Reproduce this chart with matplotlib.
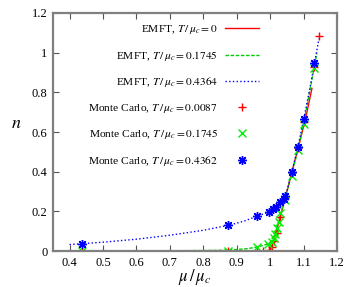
import matplotlib
matplotlib.use('Agg')
import matplotlib.pyplot as plt
from matplotlib.ticker import FuncFormatter

plt.rcParams['font.family'] = ['Liberation Serif', 'DejaVu Serif']
plt.rcParams['mathtext.fontset'] = 'stix'

# EMFT curves
mu_emft0 = [0.4, 1.0, 1.01, 1.03, 1.05, 1.07, 1.09, 1.11, 1.125]
n_emft0 = [0.0, 0.0, 0.05, 0.17, 0.30, 0.43, 0.56, 0.70, 0.82]

mu_emft1 = [0.4, 0.6, 0.8, 0.875, 0.93, 0.96, 0.985, 1.0, 1.01, 1.02, 1.03,
            1.045, 1.065, 1.083, 1.10, 1.12, 1.14]
n_emft1 = [0.0, 0.001, 0.003, 0.005, 0.012, 0.02, 0.032, 0.045, 0.07, 0.115,
           0.18, 0.27, 0.39, 0.51, 0.64, 0.82, 1.0]

mu_emft2 = [0.4, 0.5, 0.6, 0.7, 0.8, 0.875, 0.92, 0.96, 1.0, 1.02, 1.04,
            1.05, 1.065, 1.083, 1.10, 1.12, 1.146]
n_emft2 = [0.033, 0.045, 0.06, 0.08, 0.105, 0.13, 0.15, 0.175, 0.2, 0.225,
           0.26, 0.3, 0.4, 0.525, 0.66, 0.83, 1.07]

# Monte Carlo points
mu_mc0 = [0.436, 0.875, 0.962, 0.98, 0.997, 1.005, 1.012, 1.02, 1.03, 1.045,
          1.065, 1.083, 1.10, 1.132, 1.147]
n_mc0 = [0.0, 0.0, 0.0, 0.0, 0.005, 0.02, 0.05, 0.09, 0.17, 0.27, 0.40,
         0.52, 0.65, 0.93, 1.084]

mu_mc1 = [0.436, 0.875, 0.962, 0.995, 1.005, 1.011, 1.015, 1.021, 1.025,
          1.03, 1.045, 1.065, 1.083, 1.10, 1.132]
n_mc1 = [0.0, 0.003, 0.019, 0.034, 0.045, 0.064, 0.085, 0.114, 0.145, 0.19,
         0.26, 0.38, 0.51, 0.64, 0.92]

mu_mc2 = [0.436, 0.875, 0.962, 0.997, 1.01, 1.018, 1.03, 1.04, 1.045, 1.065,
          1.083, 1.10, 1.132]
n_mc2 = [0.038, 0.134, 0.176, 0.198, 0.21, 0.223, 0.245, 0.265, 0.28, 0.40,
         0.526, 0.664, 0.95]

fig = plt.figure(figsize=(3.57, 2.87), dpi=100)
ax = fig.add_axes([0.148, 0.125, 0.796, 0.83])

ax.plot(mu_emft0, n_emft0, '-', color='#ff0000', lw=1.0,
        label=r'EMFT, $T\,/\,\mu_c = 0$')
ax.plot(mu_emft1, n_emft1, '--', color='#00cc00', lw=1.0, dashes=(2.5, 1.2),
        label=r'EMFT, $T\,/\,\mu_c = 0.1745$')
ax.plot(mu_emft2, n_emft2, ':', color='#0000ff', lw=1.0,
        label=r'EMFT, $T\,/\,\mu_c = 0.4364$')
ax.plot(mu_mc0, n_mc0, '+', color='#ff0000', ms=6, mew=1.0, ls='none',
        label=r'Monte Carlo, $T\,/\,\mu_c = 0.0087$')
ax.plot(mu_mc1, n_mc1, 'x', color='#00ee00', ms=5.5, mew=1.0, ls='none',
        label=r'Monte Carlo, $T\,/\,\mu_c = 0.1745$')
ax.plot(mu_mc2, n_mc2, marker=(8, 2, 0), color='#0000ff', ms=6.5, mew=1.0,
        ls='none', label=r'Monte Carlo, $T\,/\,\mu_c = 0.4362$')

ax.set_xlim(0.35, 1.2)
ax.set_ylim(0, 1.2)
ax.set_xticks([0.4, 0.5, 0.6, 0.7, 0.8, 0.9, 1.0, 1.1, 1.2])
ax.set_yticks([0, 0.2, 0.4, 0.6, 0.8, 1.0, 1.2])
fmt = FuncFormatter(lambda v, p: '%g' % round(v, 2))
ax.xaxis.set_major_formatter(fmt)
ax.yaxis.set_major_formatter(fmt)
ax.tick_params(direction='in', top=True, right=True, length=4, width=0.8,
               color='#555555', labelsize=9, pad=4)
for s in ax.spines.values():
    s.set_color('#808080')
    s.set_linewidth(1.6)
ax.axhline(0, color='black', lw=0.8, zorder=0.5)

ax.set_xlabel(r'$\mu\,/\,\mu_c$', fontsize=12, labelpad=-1)
ax.set_ylabel(r'$n$', fontsize=13, rotation=0)
ax.yaxis.set_label_coords(-0.13, 0.5)

ax.legend(loc='upper right', bbox_to_anchor=(259 / 357, 1 - 23 / 287),
          bbox_transform=fig.transFigure, frameon=False, markerfirst=False,
          fontsize=8.2, labelspacing=1.1, handlelength=3.0, handletextpad=0.6,
          borderpad=0, borderaxespad=0)

fig.savefig('out.png', dpi=100)
